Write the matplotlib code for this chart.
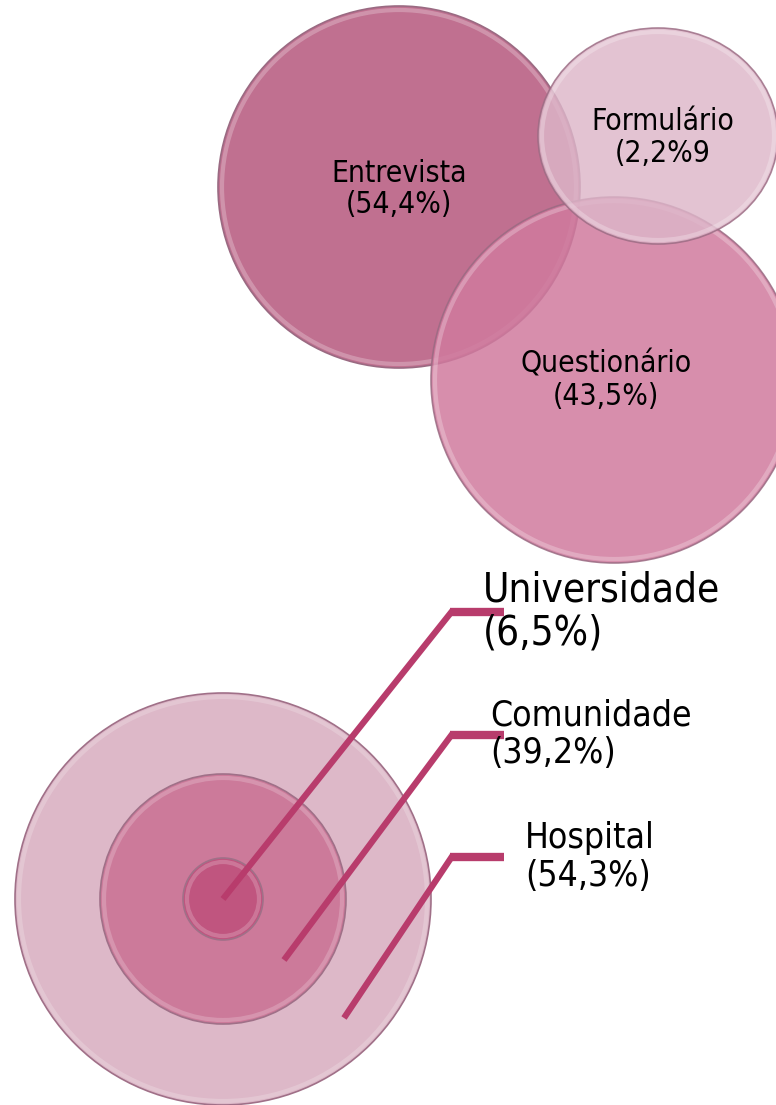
import matplotlib
matplotlib.use('Agg')
import matplotlib.pyplot as plt
from matplotlib.patches import Ellipse

# data: collection methods (top) and settings (bottom)
methods = ['Entrevista', 'Questionário', 'Formulário']
method_pct = ['(54,4%)', '(43,5%)', '(2,2%9']
settings = ['Universidade', 'Comunidade', 'Hospital']
setting_pct = ['(6,5%)', '(39,2%)', '(54,3%)']

# layout (pixel coords, y down)
method_xy = [(399, 187), (614, 380), (658, 136)]
method_wh = [(362, 362), (366, 366), (240, 216)]
method_col = ['#c07090', '#d07a9e', '#ddb6c9']
method_alpha = [1.0, 0.85, 0.82]
method_text = [(399, 182, 213), (606, 372, 405), (663, 130, 162)]

ring_wh = [(80, 82), (246, 250), (416, 412)]
ring_col = ['#c0557f', '#cc7a9a', '#ddb8c8']
center = (223, 899)
line_y = [612, 735, 857]
line_end = [(223, 899), (284, 960), (344, 1018)]
set_text = [(483, 602, 645, 29), (490, 725, 763, 25.5), (525, 848, 886, 25.5)]

plt.rcParams['font.family'] = ['DejaVu Sans']
fig = plt.figure(figsize=(7.76, 11.05), dpi=100)
ax = fig.add_axes([0, 0, 1, 1])
ax.set_xlim(0, 776)
ax.set_ylim(1105, 0)
ax.axis('off')

# top: overlapping circles
for i in range(len(methods)):
    (x, y), (w, h) = method_xy[i], method_wh[i]
    ax.add_patch(Ellipse((x, y), w, h, facecolor=method_col[i], alpha=method_alpha[i],
                         edgecolor='#9a6a82', linewidth=1.2))
    ax.add_patch(Ellipse((x, y), w - 8, h - 8, facecolor='none',
                         edgecolor='white', alpha=0.25, linewidth=3))
for i in range(len(methods)):
    tx, b1, b2 = method_text[i]
    ax.text(tx, b1, methods[i], ha='center', va='baseline', fontsize=21.5,
            fontstretch='condensed', color='black')
    ax.text(tx, b2, method_pct[i], ha='center', va='baseline', fontsize=21.5,
            fontstretch='condensed', color='black')

# bottom: concentric rings, largest first
for w_h, col in list(zip(ring_wh, ring_col))[::-1]:
    ax.add_patch(Ellipse(center, w_h[0], w_h[1], facecolor=col,
                         edgecolor='#a07088', linewidth=1.2))
    ax.add_patch(Ellipse(center, w_h[0] - 8, w_h[1] - 8, facecolor='none',
                         edgecolor='white', alpha=0.2, linewidth=3))

for i in range(len(settings)):
    y = line_y[i]
    ax.plot([450, 504], [y, y], color='#b83c6c', lw=6, solid_capstyle='butt')
    ax.plot([453, line_end[i][0]], [y - 2, line_end[i][1]], color='#b83c6c', lw=4.5,
            solid_capstyle='butt')
    tx, b1, b2, fs = set_text[i]
    ax.text(tx, b1, settings[i], ha='left', va='baseline', fontsize=fs,
            fontstretch='condensed', color='black')
    ax.text(tx, b2, setting_pct[i], ha='left', va='baseline', fontsize=fs,
            fontstretch='condensed', color='black')

fig.savefig('out.png', dpi=100)
